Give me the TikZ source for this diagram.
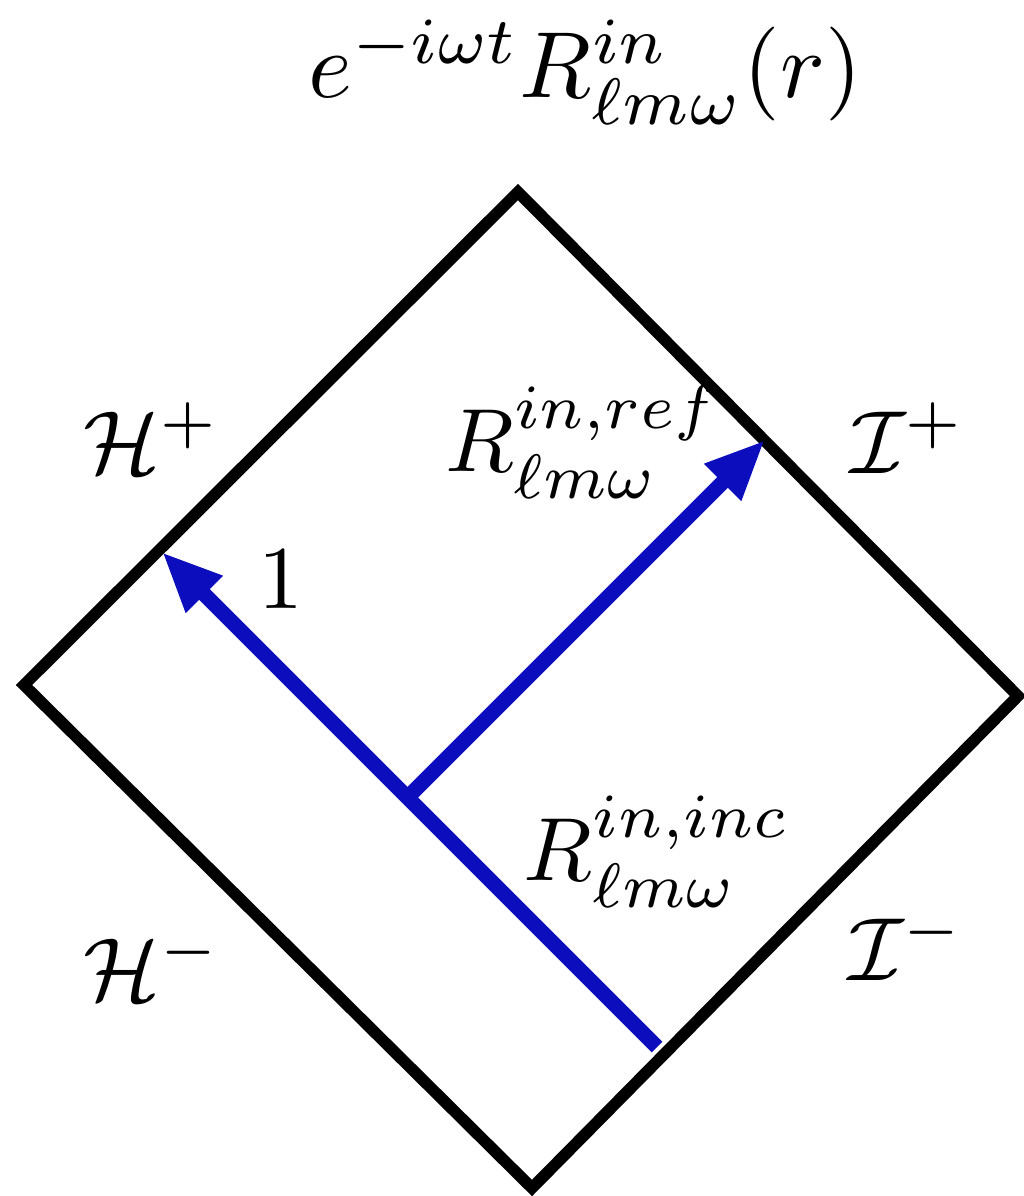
\documentclass[tikz,border=0pt]{standalone}
\usetikzlibrary{arrows.meta}
\definecolor{rayblue}{RGB}{12,14,190}
\tikzset{
  frame/.style={draw=black, line width=3.3pt, line join=miter},
  ray/.style={draw=rayblue, line width=4.3pt, line cap=butt,
    -{Triangle[length=0.6cm, width=0.48cm]}},
  lab/.style={inner sep=0pt, scale=2.55},
  ttl/.style={inner sep=0pt, scale=2.67},
}
\begin{document}
\begin{tikzpicture}[x=0.01cm, y=-0.01cm]
\useasboundingbox (0,0) rectangle (1023,1196);
% diamond
\coordinate (T) at (518,192);
\coordinate (L) at (24,685);
\coordinate (B) at (532,1188);
\coordinate (Rt) at (1018,696);
\draw[frame] (T) -- (Rt) -- (B) -- (L) -- cycle;
% rays
\coordinate (s) at (657,1047);
\coordinate (a1) at (162,552);
\coordinate (j) at (407.5,797.5);
\coordinate (a2) at (765,440);
\draw[ray] (s) -- (a1);
\draw[ray] (j) -- (a2);
% labels
\node[ttl] (title) at (585,72) {$e^{-i\omega t}R^{in}_{\ell m\omega}(r)$};
\node[lab] (hp) at (152,438) {$\mathcal{H}^{+}$};
\node[lab] (ref) at (583,442) {$R^{in,ref}_{\ell m\omega}$};
\node[lab] (ip) at (908,438) {$\mathcal{I}^{+}$};
\node[lab] (one) at (281,580) {$1$};
\node[lab] (inc) at (657,852) {$R^{in,inc}_{\ell m\omega}$};
\node[lab] (hm) at (152,965) {$\mathcal{H}^{-}$};
\node[lab] (im) at (906,945) {$\mathcal{I}^{-}$};
\end{tikzpicture}
\end{document}
